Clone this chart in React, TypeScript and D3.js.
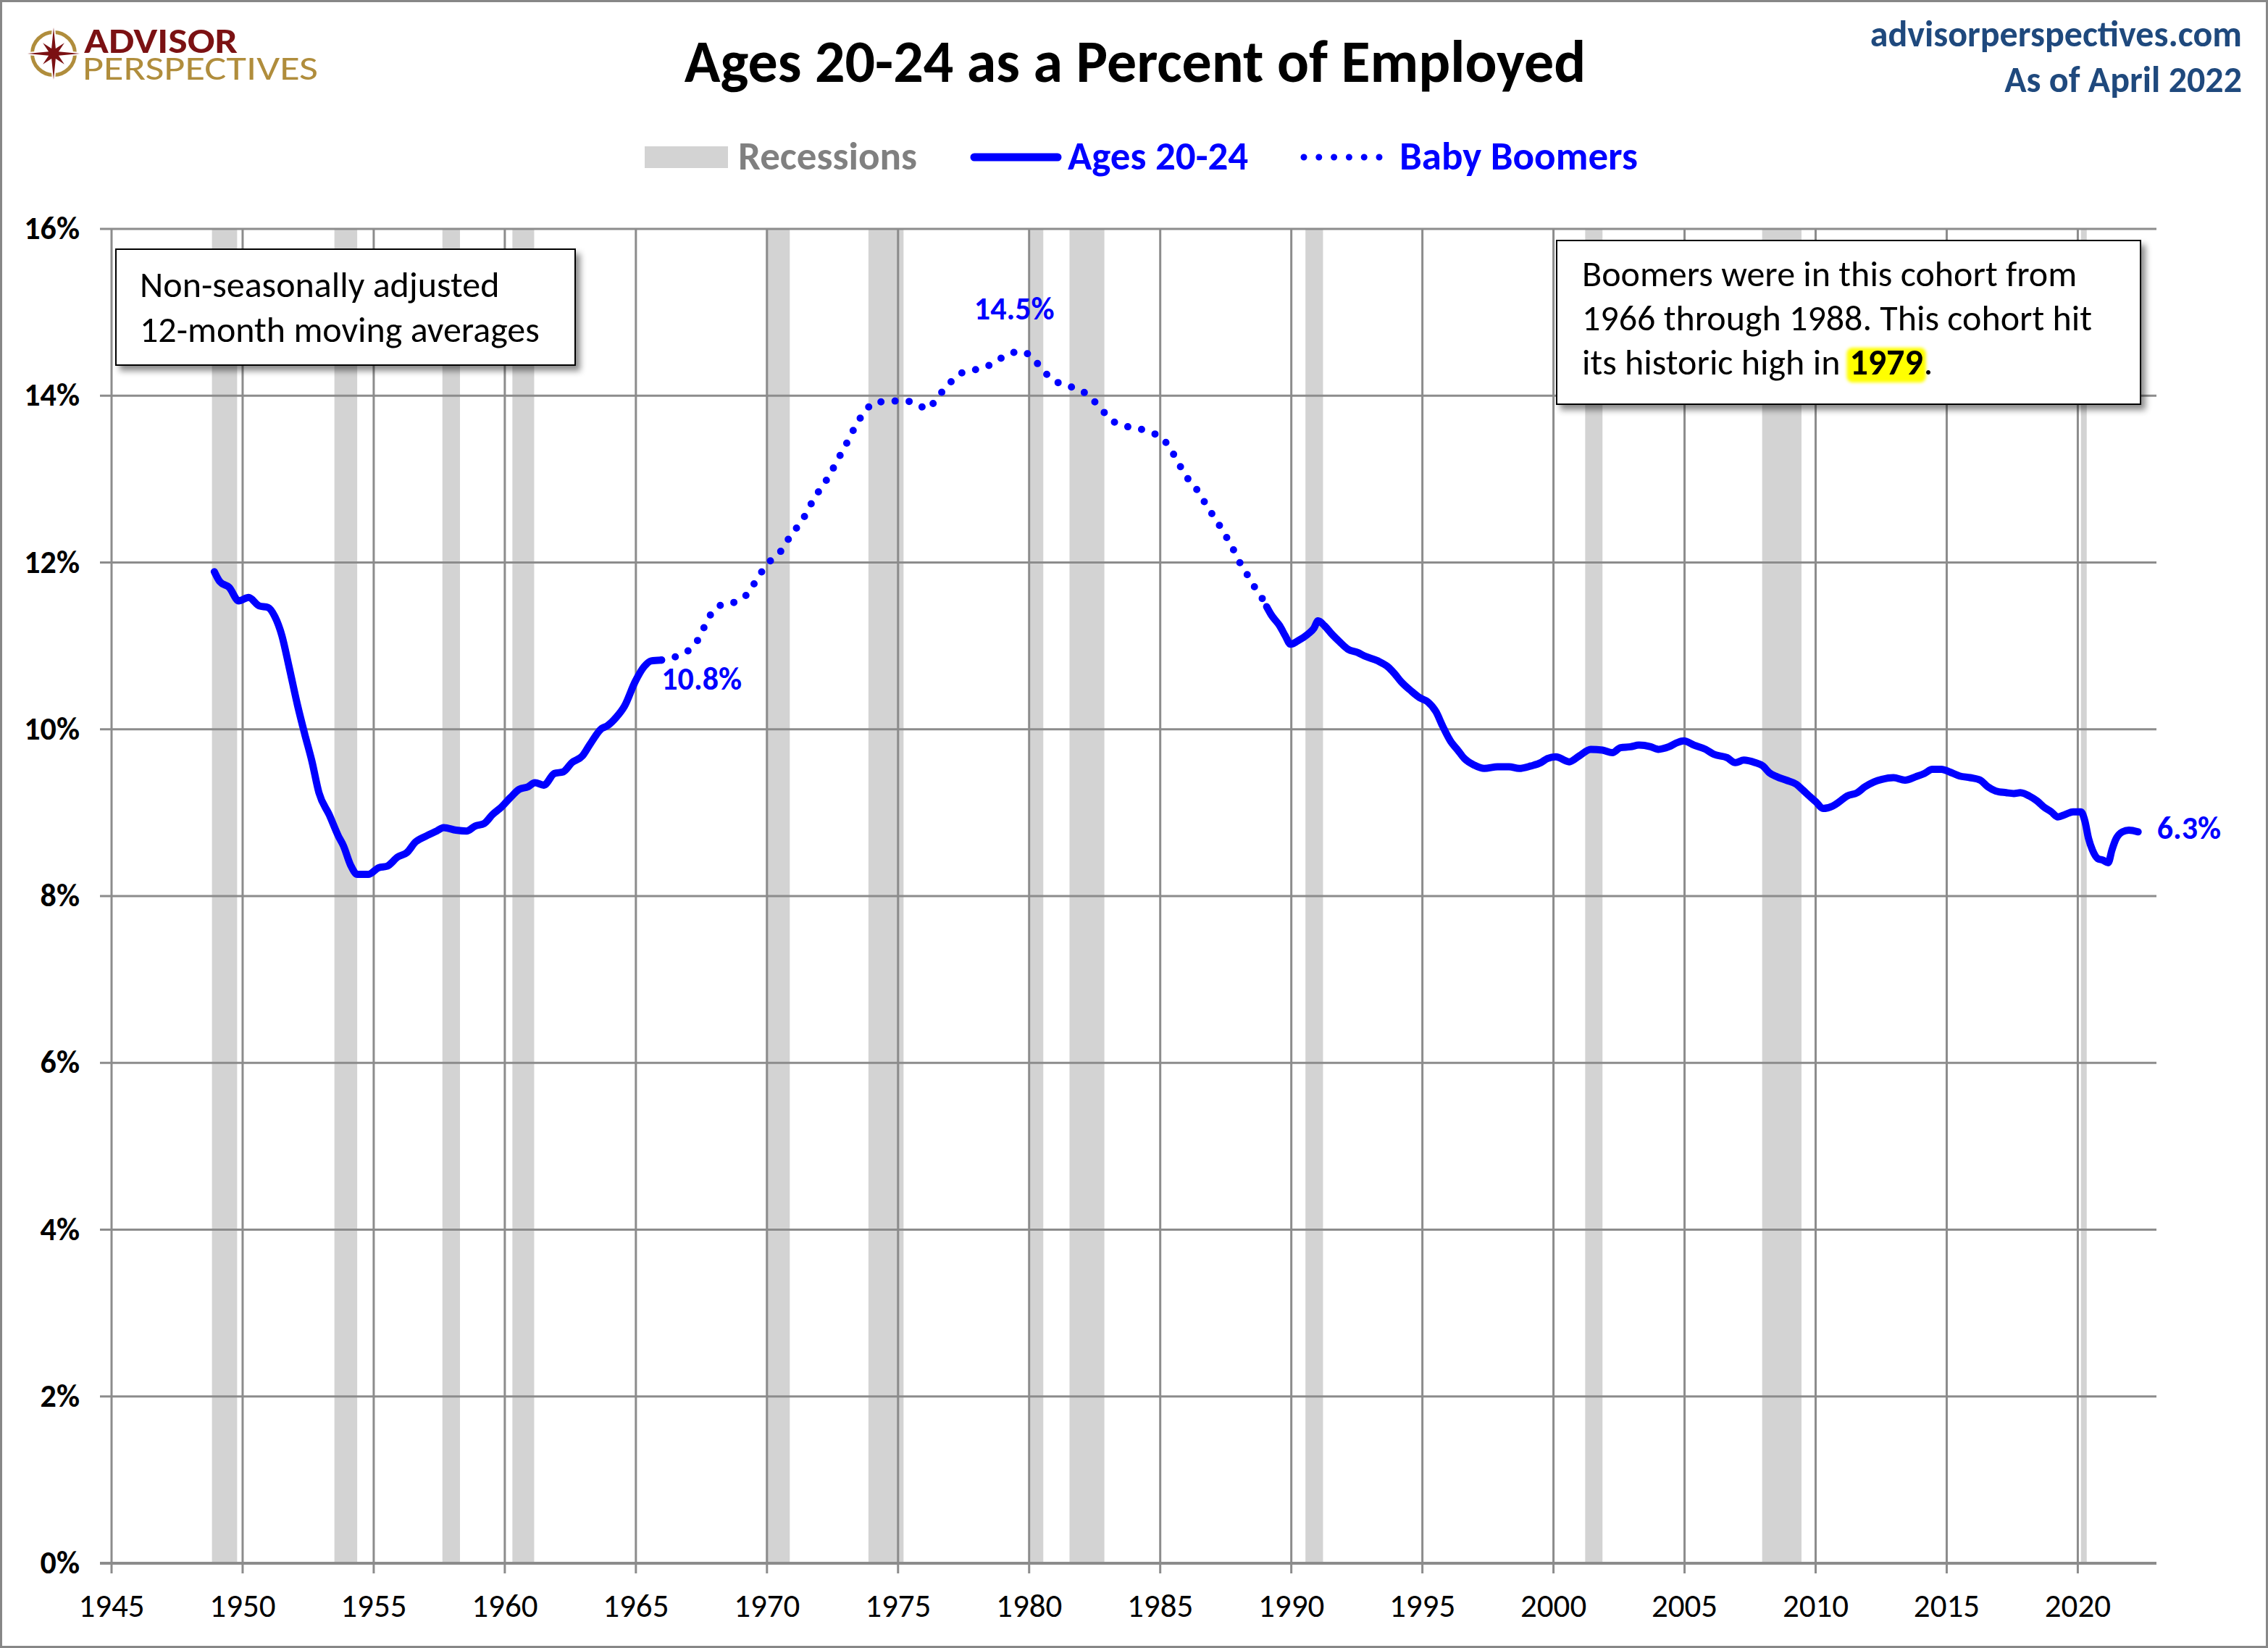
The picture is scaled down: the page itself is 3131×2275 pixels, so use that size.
import { useEffect, useRef } from 'react';
import * as d3 from 'd3';

const WIDTH = 3131;
const HEIGHT = 2275;
const FONT = "Carlito, Calibri, Lato, 'Open Sans', sans-serif";

// NBER recessions as decimal years [start, end]
const recessions: [number, number][] = [
  [1948.83, 1949.79], [1953.5, 1954.37], [1957.62, 1958.29], [1960.29, 1961.12],
  [1969.96, 1970.87], [1973.87, 1975.21], [1980.04, 1980.54], [1981.54, 1982.87],
  [1990.54, 1991.21], [2001.21, 2001.87], [2007.96, 2009.46], [2020.12, 2020.29],
];

// 12-month moving average, ages 20-24 share of employed (%)
const ages2024Early: [number, number][] = [
  [1948.92, 11.89], [1949.13, 11.77], [1949.49, 11.70], [1949.85, 11.54], [1950.23, 11.58],
  [1950.63, 11.48], [1950.97, 11.46], [1951.23, 11.35], [1951.5, 11.12], [1951.77, 10.75],
  [1952.1, 10.28], [1952.37, 9.94], [1952.64, 9.62], [1952.91, 9.24], [1953.31, 8.97],
  [1953.65, 8.72], [1953.85, 8.6], [1954.12, 8.37], [1954.38, 8.26], [1954.79, 8.26],
  [1955.19, 8.34], [1955.52, 8.36], [1955.92, 8.47], [1956.26, 8.52], [1956.6, 8.65],
  [1957.0, 8.72], [1957.4, 8.78], [1957.67, 8.82], [1958.14, 8.79], [1958.54, 8.78],
  [1958.87, 8.84], [1959.21, 8.87], [1959.54, 8.98], [1959.88, 9.07], [1960.21, 9.18],
  [1960.55, 9.28], [1960.88, 9.31], [1961.15, 9.36], [1961.49, 9.33], [1961.89, 9.47],
  [1962.23, 9.49], [1962.56, 9.6], [1962.96, 9.68], [1963.23, 9.81], [1963.7, 10.01],
  [1963.9, 10.04], [1964.24, 10.14], [1964.57, 10.28], [1964.97, 10.57], [1965.31, 10.75],
  [1965.58, 10.82], [1965.98, 10.83],
];

const babyBoomers: [number, number][] = [
  [1965.98, 10.83], [1966.59, 10.88], [1967.06, 10.96], [1967.4, 11.09], [1967.63, 11.24],
  [1967.9, 11.4], [1968.33, 11.5], [1968.84, 11.53], [1969.27, 11.63], [1969.56, 11.77],
  [1969.87, 11.92], [1970.22, 12.05], [1970.62, 12.17], [1970.89, 12.32], [1971.22, 12.45],
  [1971.52, 12.6], [1971.78, 12.76], [1972.08, 12.9], [1972.37, 13.04], [1972.63, 13.19],
  [1972.9, 13.35], [1973.16, 13.5], [1973.41, 13.66], [1973.73, 13.8], [1974.08, 13.92],
  [1974.62, 13.93], [1975.16, 13.94], [1975.67, 13.91], [1976.13, 13.84], [1976.49, 13.98],
  [1976.87, 14.11], [1977.24, 14.24], [1977.73, 14.3], [1978.24, 14.33], [1978.73, 14.41],
  [1979.21, 14.5], [1979.71, 14.53], [1980.17, 14.44], [1980.51, 14.31], [1980.92, 14.19],
  [1981.43, 14.12], [1981.94, 14.07], [1982.37, 13.97], [1982.75, 13.84], [1983.13, 13.71],
  [1983.6, 13.64], [1984.13, 13.61], [1984.62, 13.56], [1985.08, 13.49], [1985.41, 13.35],
  [1985.7, 13.19], [1985.97, 13.04], [1986.32, 12.91], [1986.6, 12.77], [1986.9, 12.62],
  [1987.19, 12.48], [1987.48, 12.33], [1987.75, 12.18], [1988.0, 12.02], [1988.29, 11.87],
  [1988.57, 11.72], [1988.87, 11.58], [1989.06, 11.47],
];

const ages2024Late: [number, number][] = [
  [1989.06, 11.47], [1989.24, 11.37], [1989.56, 11.24], [1989.77, 11.12], [1989.97, 11.02],
  [1990.25, 11.06], [1990.63, 11.14], [1990.86, 11.21], [1991.02, 11.3], [1991.27, 11.24],
  [1991.55, 11.14], [1991.84, 11.05], [1992.16, 10.96], [1992.54, 10.92], [1992.79, 10.88],
  [1993.3, 10.82], [1993.68, 10.75], [1993.93, 10.67], [1994.19, 10.57], [1994.57, 10.46],
  [1994.89, 10.38], [1995.2, 10.33], [1995.52, 10.21], [1995.77, 10.04], [1996.09, 9.85],
  [1996.35, 9.75], [1996.6, 9.65], [1996.98, 9.57], [1997.36, 9.53], [1997.87, 9.55],
  [1998.31, 9.55], [1998.69, 9.53], [1999.14, 9.56], [1999.52, 9.6], [1999.77, 9.65],
  [2000.09, 9.67], [2000.6, 9.61], [2000.98, 9.68], [2001.42, 9.76], [2001.87, 9.75],
  [2002.25, 9.72], [2002.56, 9.78], [2002.94, 9.79], [2003.26, 9.81], [2003.71, 9.79],
  [2004.0, 9.76], [2004.4, 9.79], [2004.72, 9.84], [2004.97, 9.86], [2005.36, 9.81],
  [2005.8, 9.76], [2006.12, 9.7], [2006.62, 9.66], [2006.94, 9.6], [2007.26, 9.63],
  [2007.69, 9.6], [2007.99, 9.56], [2008.23, 9.48], [2008.53, 9.43], [2008.88, 9.39],
  [2009.27, 9.34], [2009.52, 9.27], [2009.76, 9.2], [2010.01, 9.13], [2010.28, 9.05],
  [2010.65, 9.08], [2010.9, 9.13], [2011.2, 9.2], [2011.59, 9.24], [2011.88, 9.31],
  [2012.23, 9.37], [2012.53, 9.4], [2012.97, 9.42], [2013.41, 9.39], [2013.81, 9.43],
  [2014.15, 9.47], [2014.45, 9.52], [2014.8, 9.52], [2015.1, 9.49], [2015.49, 9.44],
  [2015.89, 9.42], [2016.28, 9.39], [2016.57, 9.31], [2016.87, 9.26], [2017.27, 9.24],
  [2017.56, 9.23], [2017.81, 9.24], [2018.15, 9.2], [2018.45, 9.14], [2018.7, 9.07],
  [2018.99, 9.01], [2019.24, 8.95], [2019.53, 8.98], [2019.82, 9.01], [2020.12, 9.01],
  [2020.27, 8.9], [2020.41, 8.69], [2020.56, 8.55], [2020.76, 8.45], [2020.96, 8.43],
  [2021.16, 8.4], [2021.3, 8.55], [2021.45, 8.68], [2021.7, 8.77], [2021.95, 8.79],
  [2022.3, 8.77],
];

const yTicks = [0, 2, 4, 6, 8, 10, 12, 14, 16];
const xTicks = [1945, 1950, 1955, 1960, 1965, 1970, 1975, 1980, 1985, 1990, 1995, 2000, 2005, 2010, 2015, 2020];

const legendItems = ['Recessions', 'Ages 20-24', 'Baby Boomers'];
const noteLeft = ['Non-seasonally adjusted', '12-month moving averages'];
const noteRight = ['Boomers were in this cohort from', '1966 through 1988. This cohort hit', 'its historic high in'];
const highYear = '1979';

const BLUE = '#0000ff';
const GRID = '#8c8c8c';
const REC = '#d3d3d3';

export default function App() {
  const svgRef = useRef<SVGSVGElement>(null);

  useEffect(() => {
    if (!svgRef.current) return;
    const svg = d3.select(svgRef.current);
    svg.selectAll('*').remove();

    const margin = { top: 316, right: 154, bottom: 117, left: 154 };
    const x = d3.scaleLinear().domain([1945, 2023]).range([margin.left, WIDTH - margin.right]);
    const y = d3.scaleLinear().domain([0, 16]).range([HEIGHT - margin.bottom, margin.top]);

    const defs = svg.append('defs');
    const sh = defs.append('filter').attr('id', 'shadow').attr('x', '-10%').attr('y', '-10%').attr('width', '130%').attr('height', '140%');
    sh.append('feDropShadow').attr('dx', 6).attr('dy', 7).attr('stdDeviation', 4)
      .attr('flood-color', '#000').attr('flood-opacity', 0.45);
    const glow = defs.append('filter').attr('id', 'glow');
    glow.append('feGaussianBlur').attr('stdDeviation', 2);

    svg.append('rect').attr('x', 1.5).attr('y', 1.5).attr('width', WIDTH - 3).attr('height', HEIGHT - 3)
      .attr('fill', '#fff').attr('stroke', '#878787').attr('stroke-width', 3);

    // recession bands
    svg.append('g').selectAll('rect').data(recessions).enter().append('rect')
      .attr('x', d => x(d[0]))
      .attr('width', d => Math.max(x(d[1]) - x(d[0]), 8))
      .attr('y', y(16))
      .attr('height', y(0) - y(16))
      .attr('fill', REC);

    // grid
    const grid = svg.append('g');
    grid.selectAll('line.h').data(yTicks).enter().append('line')
      .attr('x1', x(1945) - 16).attr('x2', x(2023))
      .attr('y1', d => y(d)).attr('y2', d => y(d))
      .attr('stroke', GRID).attr('stroke-width', d => (d === 0 ? 4 : 3));
    grid.selectAll('line.v').data(xTicks).enter().append('line')
      .attr('x1', d => x(d)).attr('x2', d => x(d))
      .attr('y1', y(16)).attr('y2', y(0) + 14)
      .attr('stroke', GRID).attr('stroke-width', 3);

    // axis labels
    svg.append('g').selectAll('text').data(yTicks).enter().append('text')
      .attr('x', 110).attr('y', d => y(d) + 14)
      .attr('text-anchor', 'end')
      .style('font-family', FONT).style('font-size', '44px').style('font-weight', 700).style('fill', '#000')
      .text(d => `${d}%`);
    svg.append('g').selectAll('text').data(xTicks).enter().append('text')
      .attr('x', d => x(d)).attr('y', 2232)
      .attr('text-anchor', 'middle')
      .style('font-family', FONT).style('font-size', '45px').style('fill', '#000')
      .text(d => d);

    // lines
    const lineGen = d3.line<[number, number]>().x(d => x(d[0])).y(d => y(d[1])).curve(d3.curveMonotoneX);
    [ages2024Early, ages2024Late].forEach(series => {
      svg.append('path').attr('d', lineGen(series)!)
        .attr('fill', 'none').attr('stroke', BLUE).attr('stroke-width', 10)
        .attr('stroke-linejoin', 'round').attr('stroke-linecap', 'round');
    });
    svg.append('path').attr('d', lineGen(babyBoomers)!)
      .attr('fill', 'none').attr('stroke', BLUE).attr('stroke-width', 10)
      .attr('stroke-dasharray', '0 19.5').attr('stroke-linecap', 'round');

    // value callouts
    const first = ages2024Early[ages2024Early.length - 1];
    const peak = babyBoomers.reduce((a, b) => (b[1] > a[1] ? b : a));
    const last = ages2024Late[ages2024Late.length - 1];
    const callout = (tx: number, ty: number, label: string, anchor: string) =>
      svg.append('text').attr('x', tx).attr('y', ty).attr('text-anchor', anchor)
        .style('font-family', FONT).style('font-size', '44px').style('font-weight', 700).style('fill', BLUE)
        .text(label);
    callout(x(first[0]) + 0, y(first[1]) + 41, '10.8%', 'start');
    callout(x(peak[0]) - 10, y(peak[1]) - 44, '14.5%', 'middle');
    callout(x(last[0]) + 26, y(last[1]) + 10, '6.3%', 'start');

    // note boxes
    const lBox = svg.append('g');
    lBox.append('rect').attr('x', 160).attr('y', 344).attr('width', 634).attr('height', 160)
      .attr('fill', '#fff').attr('stroke', '#000').attr('stroke-width', 2).attr('filter', 'url(#shadow)');
    noteLeft.forEach((t, i) => {
      lBox.append('text').attr('x', 193).attr('y', 410 + i * 62)
        .style('font-family', FONT).style('font-size', '50px').style('fill', '#000').text(t);
    });

    const rBox = svg.append('g');
    rBox.append('rect').attr('x', 2149).attr('y', 332).attr('width', 806).attr('height', 226)
      .attr('fill', '#fff').attr('stroke', '#000').attr('stroke-width', 2).attr('filter', 'url(#shadow)');
    const rTexts = noteRight.map((t, i) =>
      rBox.append('text').attr('x', 2184).attr('y', 395 + i * 61)
        .style('font-family', FONT).style('font-size', '50px').style('fill', '#000').text(t));
    const lead = (rTexts[2].node() as SVGTextElement).getComputedTextLength();
    const hx = 2184 + lead + 13;
    const hl = rBox.append('rect').attr('y', 480).attr('height', 48).attr('fill', '#ffff00')
      .attr('rx', 8).attr('filter', 'url(#glow)');
    const yr = rBox.append('text').attr('x', hx).attr('y', 517)
      .style('font-family', FONT).style('font-size', '50px').style('font-weight', 700).style('fill', '#000').text(highYear);
    const yw = (yr.node() as SVGTextElement).getComputedTextLength();
    hl.attr('x', hx - 4).attr('width', yw + 8);
    rBox.append('text').attr('x', hx + yw + 1).attr('y', 517)
      .style('font-family', FONT).style('font-size', '50px').style('fill', '#000').text('.');
    yr.raise();

    // title & header
    svg.append('text').attr('x', 1567).attr('y', 113).attr('text-anchor', 'middle')
      .style('font-family', FONT).style('font-size', '82px').style('font-weight', 700).style('fill', '#000')
      .text('Ages 20-24 as a Percent of Employed');
    svg.append('text').attr('x', 3095).attr('y', 64).attr('text-anchor', 'end')
      .style('font-family', FONT).style('font-size', '50px').style('font-weight', 700).style('fill', '#1f497d')
      .text('advisorperspectives.com');
    svg.append('text').attr('x', 3095).attr('y', 127).attr('text-anchor', 'end')
      .style('font-family', FONT).style('font-size', '50px').style('font-weight', 700).style('fill', '#1f497d')
      .text('As of April 2022');

    // legend
    const lg = svg.append('g').style('font-family', FONT).style('font-size', '55px').style('font-weight', 700);
    lg.append('rect').attr('x', 890).attr('y', 202).attr('width', 115).attr('height', 30).attr('fill', REC);
    lg.append('text').attr('x', 1019).attr('y', 234).style('fill', '#808080').text(legendItems[0]);
    lg.append('line').attr('x1', 1345).attr('x2', 1460).attr('y1', 217).attr('y2', 217)
      .attr('stroke', BLUE).attr('stroke-width', 11).attr('stroke-linecap', 'round');
    lg.append('text').attr('x', 1474).attr('y', 234).style('fill', BLUE).text(legendItems[1]);
    lg.append('line').attr('x1', 1800).attr('x2', 1904).attr('y1', 217).attr('y2', 217)
      .attr('stroke', BLUE).attr('stroke-width', 9).attr('stroke-linecap', 'round').attr('stroke-dasharray', '0 20.8');
    lg.append('text').attr('x', 1932).attr('y', 234).style('fill', BLUE).text(legendItems[2]);

    // logo: compass rose in a ring
    const logo = svg.append('g');
    logo.append('circle').attr('cx', 74).attr('cy', 74).attr('r', 29.5)
      .attr('fill', 'none').attr('stroke', '#b08d3c').attr('stroke-width', 5);
    const pts: [number, number][] = [];
    for (let i = 0; i < 16; i++) {
      const a = (i * Math.PI) / 8 - Math.PI / 2;
      const r = i % 2 === 1 ? 7.5 : i % 4 === 0 ? 36 : 21;
      pts.push([74 + r * Math.cos(a), 74 + r * Math.sin(a)]);
    }
    logo.append('path').attr('d', d3.line()(pts)! + 'Z').attr('fill', '#7b1113')
      .attr('stroke', '#fff').attr('stroke-width', 4).attr('stroke-linejoin', 'miter').style('paint-order', 'stroke');
    const brand = logo.append('text').style('font-family', FONT).style('font-size', '48px');
    brand.append('tspan').attr('x', 116).attr('y', 73).attr('textLength', 212).attr('lengthAdjust', 'spacingAndGlyphs')
      .style('font-weight', 700).style('fill', '#7b1113').text('ADVISOR');
    brand.append('tspan').attr('x', 114).attr('y', 110).attr('textLength', 325).attr('lengthAdjust', 'spacingAndGlyphs')
      .style('font-weight', 400).style('fill', '#b08d3c').text('PERSPECTIVES');
  }, []);

  return (
    <>
      <style>{'body{margin:0}'}</style>
      <svg ref={svgRef} width={WIDTH} height={HEIGHT} style={{ display: 'block' }} />
    </>
  );
}
